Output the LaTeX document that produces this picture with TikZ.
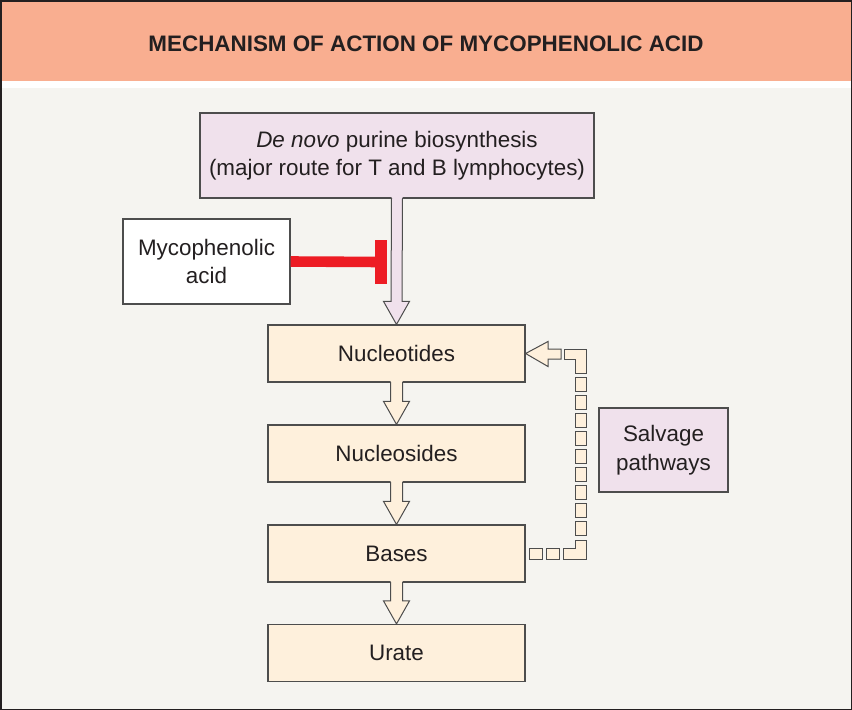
\documentclass[tikz,border=0pt]{standalone}
\usepackage{fontspec}
\setmainfont{Liberation Sans}
\usetikzlibrary{calc}
\definecolor{hdr}{HTML}{F9AE90}
\definecolor{bgc}{HTML}{F5F4F0}
\definecolor{lav}{HTML}{F0E1EC}
\definecolor{beige}{HTML}{FEF0DC}
\definecolor{ink}{HTML}{231F20}
\definecolor{inh}{HTML}{ED1C24}
\definecolor{edge}{HTML}{4D4D4D}
\newcommand\blockarr[5]{%
  \fill[#3] ($(#1.south)+(-#4,-1.5)$) -- ($(#2.north)+(-#4,-23)$) -- ($(#2.north)+(-#5,-23)$) -- (#2.north) -- ($(#2.north)+(#5,-23)$) -- ($(#2.north)+(#4,-23)$) -- ($(#1.south)+(#4,-1.5)$) -- cycle;
  \draw[arrline] ($(#1.south)+(-#4,-0.6)$) -- ($(#2.north)+(-#4,-23)$) -- ($(#2.north)+(-#5,-23)$) -- (#2.north) -- ($(#2.north)+(#5,-23)$) -- ($(#2.north)+(#4,-23)$) -- ($(#1.south)+(#4,-0.6)$);
}
\begin{document}
\begin{tikzpicture}[x=1pt,y=-1pt,
  box/.style={draw=edge, line width=1.2pt, inner sep=0pt, font=\fontsize{22.4}{28.5}\selectfont, text=ink, align=center},
  stage/.style={box, fill=beige, minimum width=257pt, minimum height=57pt},
  arrline/.style={draw=edge, line width=1pt, line join=miter},
  dashpiece/.style={fill=beige, draw=edge, line width=1pt}]
\useasboundingbox (0,0) rectangle (852,710);
\fill[bgc] (0,88) rectangle (852,710);
\fill[white] (0,81) rectangle (852,88);
\fill[hdr] (0,0) rectangle (852,81);
\draw[ink, line width=1.5pt] (0.75,0.75) rectangle (851.25,709.25);
\node[font=\bfseries\fontsize{22.4}{24}\selectfont, text=ink] (title) at (426,44) {MECHANISM OF ACTION OF MYCOPHENOLIC ACID};

\node[box, fill=lav, minimum width=394pt, minimum height=85pt] (dn) at (397,155.5) {\textit{De novo} purine biosynthesis\\(major route for T and B lymphocytes)};
\node[box, fill=white, minimum width=167pt, minimum height=85pt] (my) at (206.5,261.5) {Mycophenolic\\acid};
\node[stage] (nt) at (396.5,353.5) {Nucleotides};
\node[stage] (ns) at (396.5,453.5) {Nucleosides};
\node[stage] (bs) at (396.5,553.5) {Bases};
\node[stage] (ur) at (396.5,653) {Urate};
\node[box, fill=lav, minimum width=129pt, minimum height=84pt] (sv) at (663.5,450) {Salvage\\pathways};

\blockarr{dn}{nt}{lav}{5.5}{13}
\blockarr{nt}{ns}{beige}{6}{13}
\blockarr{ns}{bs}{beige}{6}{13}
\blockarr{bs}{ur}{beige}{6}{13}

\coordinate (tb) at (381,262);
\draw[inh, line width=10.6pt] (my.east) -- (tb);
\draw[inh, line width=11.7pt] ($(tb)+(0,-22)$) -- ($(tb)+(0,22)$);

% salvage pathway dashed block arrow
\draw[dashpiece] (nt.east) -- (548,341.5) -- (548,349) -- (561,349) -- (561,359) -- (548,359) -- (548,366.5) -- cycle;
\draw[dashpiece] (564,349) -- (586,349) -- (586,373) -- (575,373) -- (575,359) -- (564,359) -- cycle;
\foreach \y in {377,395,413,431,449,467,485,503,521}
  \draw[dashpiece] (575,\y) rectangle (586,\y+14);
\draw[dashpiece] (575,540) -- (586,540) -- (586,559) -- (563,559) -- (563,548) -- (575,548) -- cycle;
\draw[dashpiece] (546,548) rectangle (559,559);
\draw[dashpiece] (529,548) rectangle (542,559);
\end{tikzpicture}
\end{document}
